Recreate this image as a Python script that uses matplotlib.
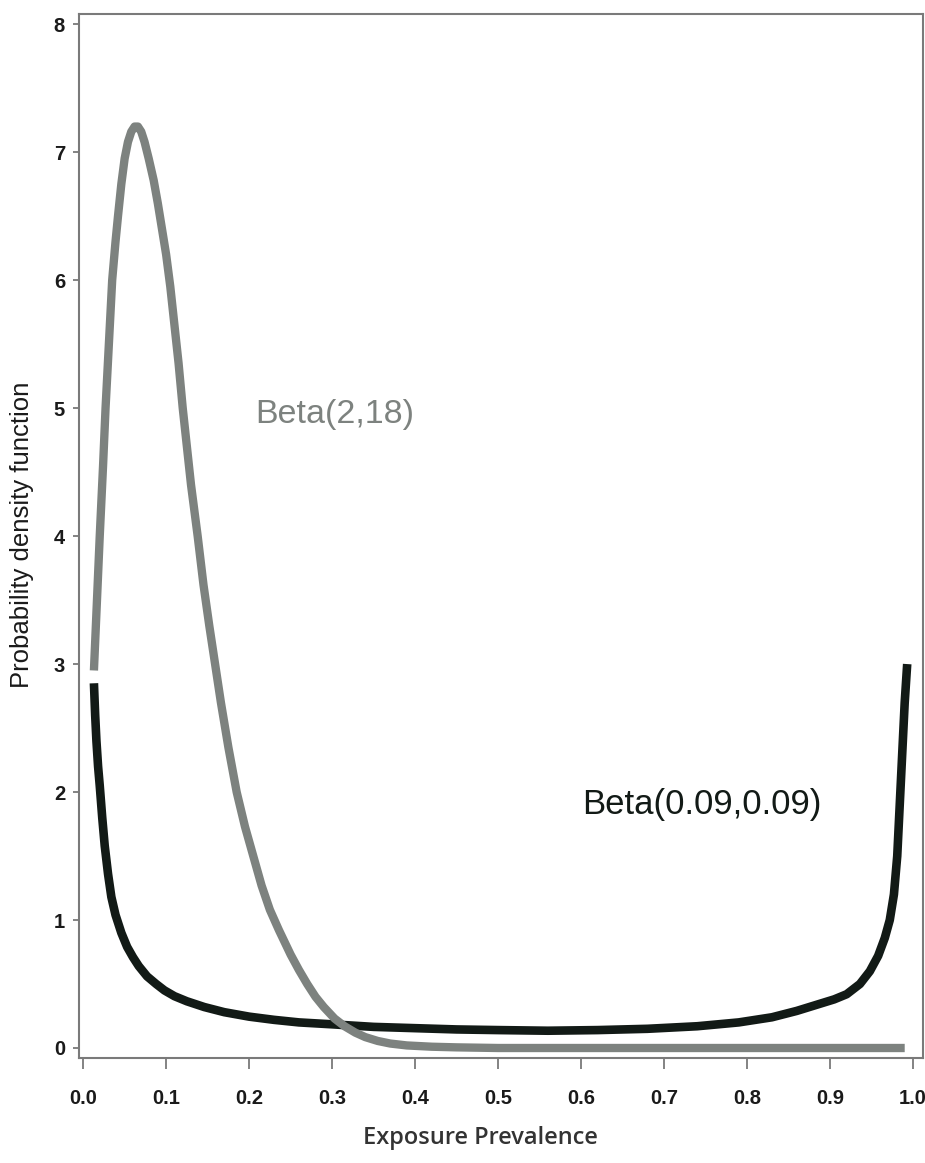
import matplotlib
matplotlib.use("Agg")
import matplotlib.pyplot as plt

# Beta(2,18) density
gray_x = [0.013, 0.016, 0.020, 0.024, 0.027, 0.031, 0.035, 0.039, 0.042, 0.046,
          0.050, 0.054, 0.058, 0.062, 0.066, 0.070, 0.074, 0.079, 0.085, 0.090,
          0.095, 0.100, 0.105, 0.110, 0.115, 0.120, 0.125, 0.130, 0.138, 0.145,
          0.152, 0.159, 0.166, 0.175, 0.185, 0.195, 0.205, 0.215, 0.225, 0.236,
          0.250, 0.260, 0.270, 0.280, 0.290, 0.303, 0.315, 0.328, 0.340, 0.355,
          0.370, 0.390, 0.420, 0.450, 0.500, 0.600, 0.700, 0.800, 0.900, 0.990]
gray_y = [2.95, 3.40, 4.00, 4.55, 5.00, 5.50, 6.00, 6.30, 6.50, 6.75,
          6.95, 7.08, 7.16, 7.20, 7.20, 7.16, 7.08, 6.95, 6.78, 6.60,
          6.40, 6.20, 5.95, 5.65, 5.35, 5.00, 4.70, 4.40, 4.00, 3.62,
          3.30, 3.00, 2.70, 2.35, 2.00, 1.73, 1.50, 1.27, 1.08, 0.92,
          0.73, 0.61, 0.50, 0.40, 0.32, 0.23, 0.17, 0.12, 0.085, 0.055,
          0.035, 0.020, 0.010, 0.005, 0.0, 0.0, 0.0, 0.0, 0.0, 0.0]

# Beta(0.09,0.09) density
black_x = [0.013, 0.0145, 0.016, 0.018, 0.020, 0.023, 0.026, 0.030, 0.034, 0.039,
           0.046, 0.053, 0.060, 0.067, 0.077, 0.088, 0.098, 0.110, 0.125, 0.146,
           0.170, 0.200, 0.230, 0.260, 0.300, 0.350, 0.400, 0.450, 0.500, 0.560,
           0.620, 0.680, 0.740, 0.790, 0.830, 0.860, 0.885, 0.905, 0.920, 0.936,
           0.948, 0.958, 0.966, 0.972, 0.977, 0.981, 0.984, 0.987, 0.990, 0.993]
black_y = [2.85, 2.60, 2.40, 2.20, 2.05, 1.80, 1.58, 1.36, 1.18, 1.04,
           0.90, 0.79, 0.71, 0.64, 0.56, 0.50, 0.45, 0.405, 0.365, 0.32,
           0.28, 0.245, 0.22, 0.20, 0.185, 0.165, 0.155, 0.145, 0.14, 0.135,
           0.14, 0.15, 0.17, 0.20, 0.24, 0.29, 0.34, 0.38, 0.42, 0.50,
           0.60, 0.72, 0.86, 1.00, 1.20, 1.50, 1.90, 2.30, 2.70, 3.00]

x_ticks = [0.0, 0.1, 0.2, 0.3, 0.4, 0.5, 0.6, 0.7, 0.8, 0.9, 1.0]
x_tick_labels = ["0.0", "0.1", "0.2", "0.3", "0.4", "0.5", "0.6", "0.7", "0.8", "0.9", "1.0"]
y_ticks = [0, 1, 2, 3, 4, 5, 6, 7, 8]
y_tick_labels = ["0", "1", "2", "3", "4", "5", "6", "7", "8"]

label_gray = "Beta(2,18)"
label_black = "Beta(0.09,0.09)"
x_title = "Exposure Prevalence"
y_title = "Probability density function"

GRAY = "#7d827f"
BLACK = "#121a16"
AXIS = "#7a7a7a"

fig = plt.figure(figsize=(9.25, 11.63), dpi=100)
ax = fig.add_axes([0.0854, 0.0903, 0.9124, 0.8977])

ax.plot(black_x, black_y, color=BLACK, lw=6.2, solid_capstyle="butt", solid_joinstyle="round")
ax.plot(gray_x, gray_y, color=GRAY, lw=6.0, solid_capstyle="butt", solid_joinstyle="round")

ax.set_xlim(-0.005, 1.012)
ax.set_ylim(-0.078, 8.08)

ax.set_xticks(x_ticks)
ax.set_xticklabels(x_tick_labels)
ax.set_yticks(y_ticks)
ax.set_yticklabels(y_tick_labels)

for sp in ax.spines.values():
    sp.set_color(AXIS)
    sp.set_linewidth(1.5)

ax.tick_params(axis="x", direction="out", length=8, width=1.3, color=AXIS, pad=14)
ax.tick_params(axis="y", direction="out", length=4, width=1.3, color=AXIS, pad=6)
for lab in ax.get_xticklabels() + ax.get_yticklabels():
    lab.set_fontfamily("Liberation Sans")
    lab.set_fontweight("bold")
    lab.set_fontsize(14.5)
    lab.set_color("#1a1a1a")

ax.text(0.303, 4.95, label_gray, color=GRAY, fontsize=24.5, family="Liberation Sans",
        ha="center", va="center")
ax.text(0.745, 1.90, label_black, color=BLACK, fontsize=25, family="Liberation Sans",
        ha="center", va="center")

fig.text(0.519, 1 - 1138 / 1163, x_title, fontsize=17, family="Open Sans",
         fontweight="semibold", color="#333333", ha="center", va="center")
fig.text(22 / 925, 1 - 535 / 1163, y_title, fontsize=18.5, family="Liberation Sans",
         rotation=90, color="#1a1a1a", ha="center", va="center")

fig.savefig("out.png", dpi=100)
